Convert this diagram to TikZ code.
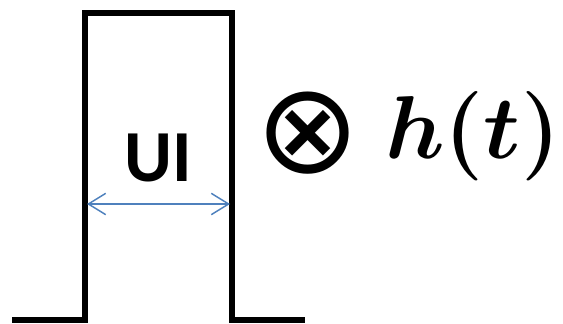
\RequirePackage{fix-cm}
\documentclass[tikz,border=0pt]{standalone}
\usepackage{amsmath}
\usepackage{bm}
\usepackage{fontspec}
\usepackage{tikz}
\usepackage{xcolor}
\usetikzlibrary{arrows.meta,positioning}
\newfontfamily\uifont{Carlito}
\newfontfamily\uisym{DejaVu Sans}
\definecolor{uiblue}{RGB}{79,129,189}
\tikzset{
  uiwave/.style={line width=4.5pt, draw=black, line join=miter},
  uiarr/.style={{Straight Barb[length=13pt, width=16pt, line width=1.1pt]}-{Straight Barb[length=13pt, width=16pt, line width=1.1pt]}, line width=1.1pt, draw=uiblue},
  uilab/.style={font=\uifont\bfseries\fontsize{55}{58}\selectfont, inner sep=0pt},
  uimath/.style={font=\fontsize{67}{70}\selectfont, inner sep=0pt},
  uiop/.style={font=\uisym\fontsize{94}{96}\selectfont, inner sep=0pt}
}
\begin{document}
\begin{tikzpicture}[x=0.75pt, y=-0.75pt]
  \useasboundingbox (0,0) rectangle (563,324);
  % pulse
  \coordinate (p0) at (12,320);
  \coordinate (p1) at (85,320);
  \coordinate (p2) at (85,13);
  \coordinate (p3) at (232,13);
  \coordinate (p4) at (232,320);
  \coordinate (p5) at (305,320);
  \draw[uiwave] (p0) -- (p1) -- (p2) -- (p3) -- (p4) -- (p5);
  % width of one unit interval
  \coordinate (wl) at (87,204);
  \coordinate (wr) at (230,204);
  \draw[uiarr] (wl) -- (wr);
  \node[uilab] (ui) at (158,158) {UI};
  % convolution with the channel response
  \node[uiop] (conv) at (308,133) {⊗};
  \node[uimath, anchor=base west] (resp) at (385,158) {$\bm{h}\bm{(}\bm{t}\bm{)}$};
\end{tikzpicture}
\end{document}
